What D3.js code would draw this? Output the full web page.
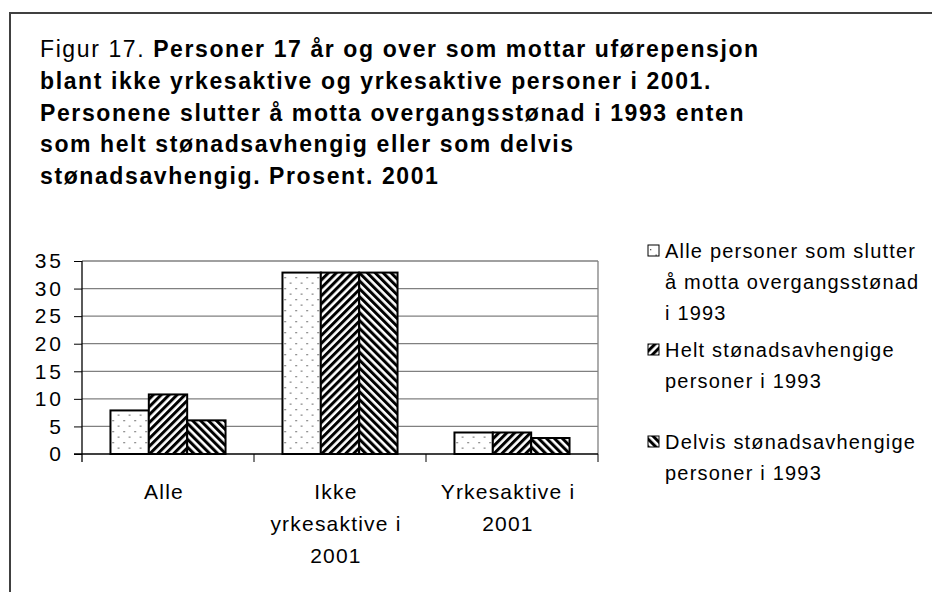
<!DOCTYPE html>
<html>
<head>
<meta charset="utf-8">
<script src="https://cdn.jsdelivr.net/npm/d3@7"></script>
<style>
  html, body { margin: 0; background: #fff; overflow: hidden; }
  svg { display: block; font-family: Arial, "Liberation Sans", sans-serif; }
</style>
</head>
<body>
<svg id="chart" width="932" height="592"></svg>
<script>
const categories = [["Alle"], ["Ikke", "yrkesaktive i", "2001"], ["Yrkesaktive i", "2001"]];
const series = ["alle", "helt", "delvis"];
const alleValues = [7.9, 32.9, 3.9];
const heltValues = [10.8, 32.9, 3.9];
const delvisValues = [6.1, 32.9, 2.9];
const yTicks = [0, 5, 10, 15, 20, 25, 30, 35];
const titleLines = [
  "Personer 17 år og over som mottar uførepensjon",
  "blant ikke yrkesaktive og yrkesaktive personer i 2001.",
  "Personene slutter å motta overgangsstønad i 1993 enten",
  "som helt stønadsavhengig eller som delvis",
  "stønadsavhengig. Prosent. 2001"
];
const legendLabels = [
  ["Alle personer som slutter", "å motta overgangsstønad", "i 1993"],
  ["Helt stønadsavhengige", "personer i 1993"],
  ["Delvis stønadsavhengige", "personer i 1993"]
];

const svg = d3.select("#chart");
const catKeys = categories.map((c, i) => i);
const rows = catKeys.map(i => ({ cat: i, alle: alleValues[i], helt: heltValues[i], delvis: delvisValues[i] }));

// fill patterns
const defs = svg.append("defs");
const dots = defs.append("pattern").attr("id", "p-alle").attr("patternUnits", "userSpaceOnUse")
  .attr("width", 11).attr("height", 11);
dots.append("rect").attr("width", 11).attr("height", 11).attr("fill", "#fff");
dots.append("rect").attr("x", 2).attr("y", 2).attr("width", 1.3).attr("height", 1.3).attr("fill", "#555");
dots.append("rect").attr("x", 7.5).attr("y", 7.5).attr("width", 1.3).attr("height", 1.3).attr("fill", "#555");

[["p-helt", 45], ["p-delvis", -45]].forEach(([id, ang]) => {
  const p = defs.append("pattern").attr("id", id).attr("patternUnits", "userSpaceOnUse")
    .attr("width", 5.6).attr("height", 5.6).attr("patternTransform", `rotate(${ang})`);
  p.append("rect").attr("width", 5.6).attr("height", 5.6).attr("fill", "#fff");
  p.append("rect").attr("width", 3).attr("height", 5.6).attr("fill", "#000");
});

// frame: only the left and top edges are inside the picture
svg.append("path").attr("d", "M10,600V13H940")
  .attr("fill", "none").attr("stroke", "#404040").attr("stroke-width", 2);

// title
const title = svg.append("text").attr("font-size", 23).attr("letter-spacing", 1.6).attr("fill", "#000");
titleLines.forEach((line, i) => {
  if (i === 0) {
    title.append("tspan").attr("x", 40).attr("y", 57).text("Figur 17. ");
    title.append("tspan").attr("font-weight", "bold").text(line);
  } else {
    title.append("tspan").attr("x", 40).attr("y", 57 + i * 31.8).attr("font-weight", "bold").text(line);
  }
});

const x0 = d3.scaleBand().domain(catKeys).range([82, 598]).paddingInner(0.331).paddingOuter(0.1655);
const x1 = d3.scaleBand().domain(series).range([0, x0.bandwidth()]);
const y = d3.scaleLinear().domain([0, 35]).range([454, 261]);

// grid
svg.append("g").selectAll("line").data(yTicks.slice(1)).join("line")
  .attr("x1", 82).attr("x2", 598).attr("y1", d => y(d)).attr("y2", d => y(d))
  .attr("stroke", "#808080").attr("stroke-width", 1.3);
svg.append("line").attr("x1", 598).attr("x2", 598).attr("y1", y(35)).attr("y2", y(0))
  .attr("stroke", "#808080").attr("stroke-width", 1.3);

// bars
svg.append("g").selectAll("g").data(rows).join("g")
  .attr("transform", d => `translate(${x0(d.cat)},0)`)
  .selectAll("rect").data(d => series.map(s => ({ s, v: d[s] }))).join("rect")
  .attr("x", d => x1(d.s)).attr("width", x1.bandwidth())
  .attr("y", d => y(d.v)).attr("height", d => y(0) - y(d.v))
  .attr("fill", d => `url(#p-${d.s})`).attr("stroke", "#000").attr("stroke-width", 2);

// y axis
const yAxis = svg.append("g").attr("transform", "translate(82,0)")
  .call(d3.axisLeft(y).tickValues(yTicks).tickSize(8).tickPadding(10));
yAxis.selectAll("text").attr("font-size", 21).attr("letter-spacing", 3).attr("fill", "#000")
  .attr("font-family", "Arial, sans-serif");
yAxis.selectAll("line").attr("stroke", "#000");
yAxis.select(".domain").attr("stroke", "#000").attr("stroke-width", 1.3).attr("d", `M0,${y(35)}V${y(0) + 8}`);

// x axis
const xEdge = d3.scaleLinear().domain([0, 3]).range([82, 598]);
svg.append("line").attr("x1", 74).attr("x2", 598).attr("y1", y(0)).attr("y2", y(0))
  .attr("stroke", "#000").attr("stroke-width", 1.3);
svg.append("g").selectAll("line").data([1, 2, 3]).join("line")
  .attr("x1", d => xEdge(d)).attr("x2", d => xEdge(d)).attr("y1", y(0)).attr("y2", y(0) + 8)
  .attr("stroke", "#000");
svg.append("g").selectAll("text").data(categories).join("text")
  .attr("text-anchor", "middle").attr("font-size", 21).attr("letter-spacing", 1.2).attr("fill", "#000")
  .each(function (lines, i) {
    d3.select(this).selectAll("tspan").data(lines).join("tspan")
      .attr("x", x0(i) + x0.bandwidth() / 2 - 4).attr("y", (d, j) => 499 + j * 32).text(d => d);
  });

// legend
const legendY = [258, 357, 449];
const leg = svg.append("g").selectAll("g").data(series).join("g")
  .attr("transform", (d, i) => `translate(648,${legendY[i]})`);
leg.append("rect").attr("x", 0).attr("y", -13).attr("width", 11).attr("height", 11)
  .attr("fill", d => `url(#p-${d})`).attr("stroke", "#000").attr("stroke-width", 1);
leg.append("text").attr("font-size", 20).attr("letter-spacing", 1.2).attr("fill", "#000")
  .each(function (d, i) {
    d3.select(this).selectAll("tspan").data(legendLabels[i]).join("tspan")
      .attr("x", 17).attr("y", (t, j) => j * 31).text(t => t);
  });
</script>
</body>
</html>
